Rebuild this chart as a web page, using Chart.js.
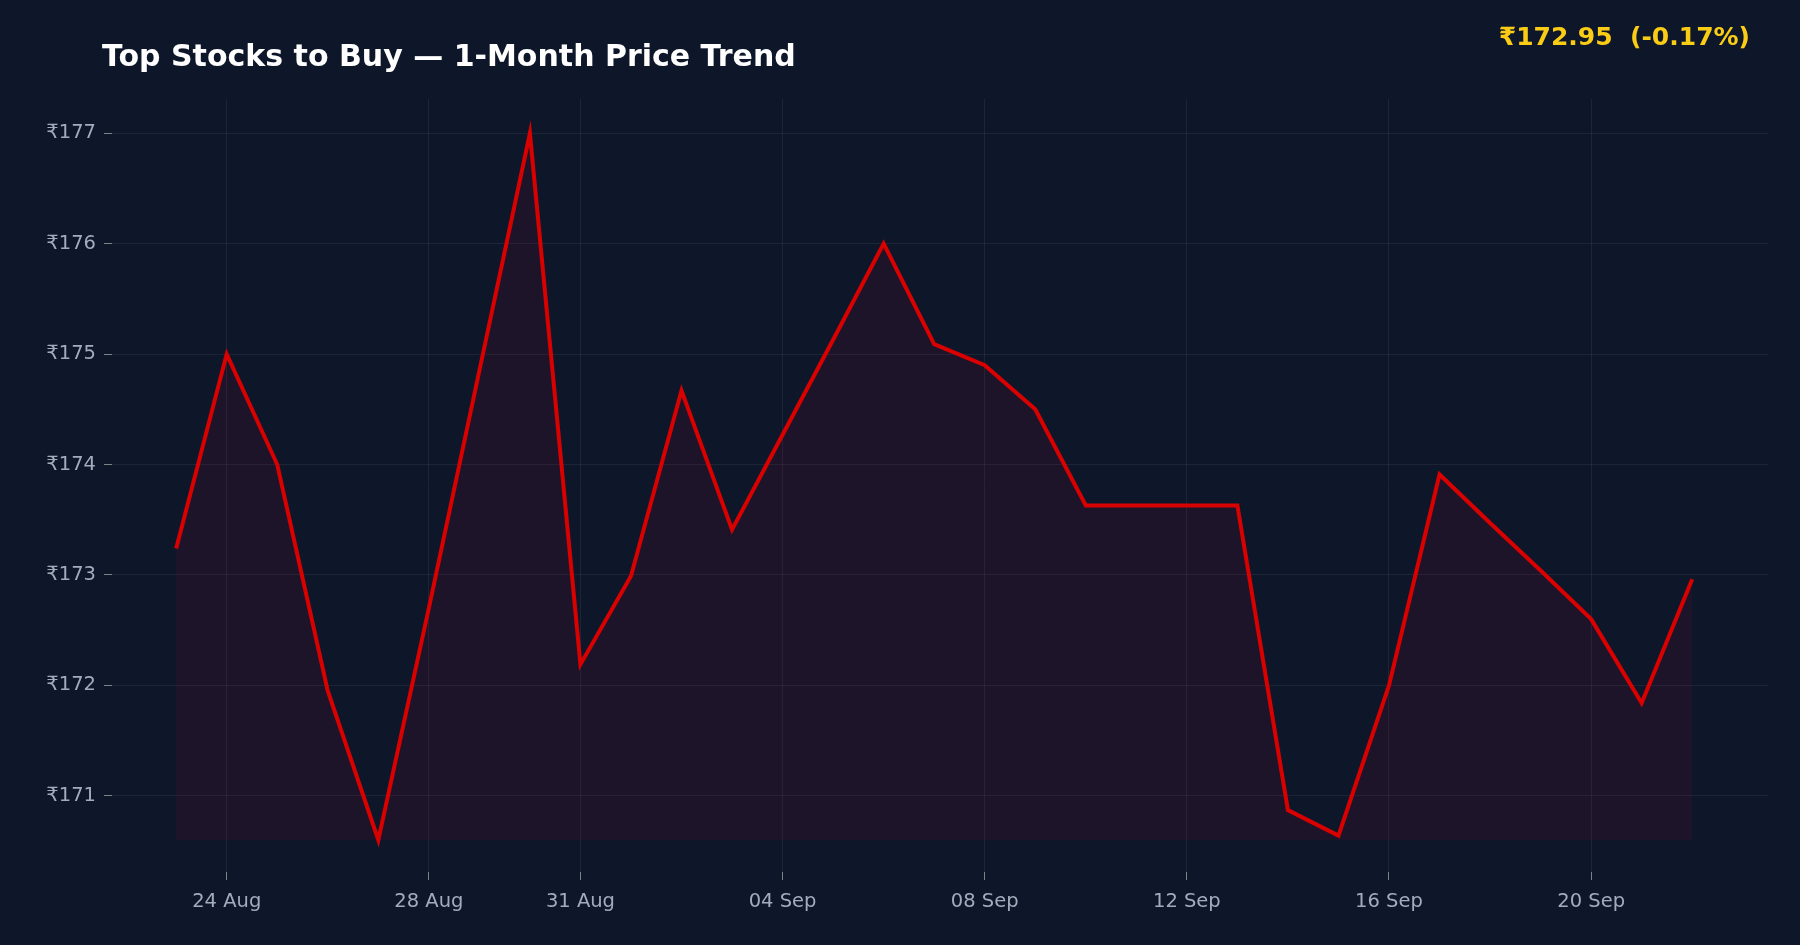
<!DOCTYPE html>
<html><head><meta charset="utf-8">
<script src="https://cdn.jsdelivr.net/npm/chart.js@4"></script>
<style>
html,body{margin:0;padding:0;background:#0e172a;width:1800px;height:945px;overflow:hidden;font-family:"DejaVu Sans",sans-serif}
#wrap{position:absolute;left:0;top:0;width:1800px;height:945px}
#title{position:absolute;left:102px;top:38px;color:#fff;font-weight:bold;font-size:30px}
#price{position:absolute;right:50px;top:22px;color:#facc15;font-weight:bold;font-size:25px;white-space:pre}
</style></head><body>
<div id="wrap"><canvas id="c" width="1800" height="945"></canvas></div>
<div id="title">Top Stocks to Buy — 1-Month Price Trend</div>
<div id="price">₹172.95  (-0.17%)</div>
<script>
const dates = ["23 Aug","24 Aug","25 Aug","26 Aug","27 Aug","28 Aug","29 Aug","30 Aug","31 Aug","01 Sep","02 Sep","03 Sep","04 Sep","05 Sep","06 Sep","07 Sep","08 Sep","09 Sep","10 Sep","11 Sep","12 Sep","13 Sep","14 Sep","15 Sep","16 Sep","17 Sep","18 Sep","19 Sep","20 Sep","21 Sep","22 Sep"];
const prices = [173.24,175.0,174.0,171.95,170.6,172.7,174.85,177.0,172.19,172.99,174.67,173.41,174.27,175.13,176.0,175.09,174.9,174.5,173.63,173.63,173.63,173.63,170.87,170.64,172.0,173.91,173.47,173.04,172.6,171.84,172.96];
const tickIdx = [1,5,8,12,16,20,24,28];
const yTicks = [171,172,173,174,175,176,177];
const pts = prices.map((v,i)=>({x:i,y:v}));
new Chart(document.getElementById('c'),{
 type:'line',
 data:{datasets:[{data:pts,borderColor:'#d90000',borderWidth:4,pointRadius:0,tension:0,
   fill:{value:Math.min(...prices)},backgroundColor:'rgba(200,0,30,0.09)'}]},
 options:{responsive:false,animation:false,devicePixelRatio:1,
  layout:{padding:{top:99,right:32,left:0,bottom:0}},
  plugins:{legend:{display:false},tooltip:{enabled:false}},
  scales:{
   x:{type:'linear',min:-1.27,max:31.5,
     afterBuildTicks:a=>{a.ticks=tickIdx.map(v=>({value:v}));},
     afterFit:a=>{a.height=73;},
     ticks:{color:'#a3acbb',font:{size:19.5,family:'DejaVu Sans'},callback:v=>dates[v],padding:10},
     grid:{color:'rgba(255,255,255,0.06)',tickColor:'rgba(200,200,200,0.6)',tickLength:8},border:{display:false}},
   y:{min:170.31,max:177.31,
     afterBuildTicks:a=>{a.ticks=yTicks.map(v=>({value:v}));},
     afterFit:a=>{a.width=112;},
     ticks:{color:'#a3acbb',font:{size:19.5,family:'DejaVu Sans'},callback:v=>'₹'+v,padding:8},
     grid:{color:'rgba(255,255,255,0.06)',tickColor:'rgba(200,200,200,0.6)',tickLength:8},border:{display:false}}
  }}
});
</script></body></html>
